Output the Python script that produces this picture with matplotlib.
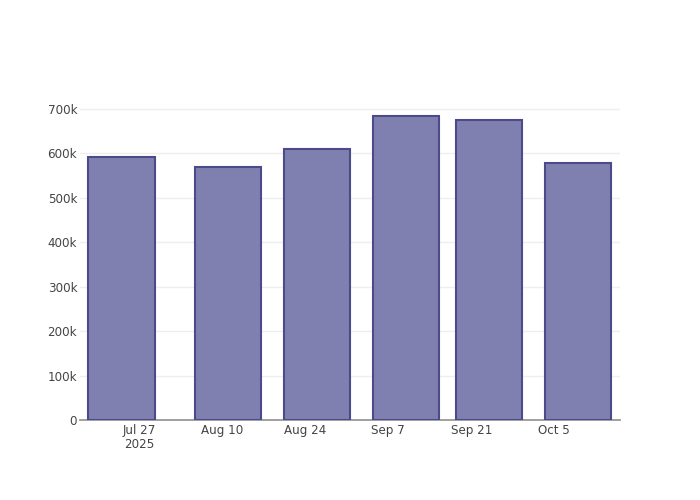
import matplotlib
matplotlib.use("Agg")
import matplotlib.pyplot as plt
import matplotlib.dates as mdates
import numpy as np
import datetime as dt

# weekly-ish totals
dates = ["2025-07-24", "2025-08-11", "2025-08-26", "2025-09-10", "2025-09-24", "2025-10-09"]
values = [592000, 569000, 610000, 684000, 675000, 578000]

tick_dates = ["2025-07-27", "2025-08-10", "2025-08-24", "2025-09-07", "2025-09-21", "2025-10-05"]
tick_labels = ["Jul 27\n2025", "Aug 10", "Aug 24", "Sep 7", "Sep 21", "Oct 5"]
y_ticks = [0, 100000, 200000, 300000, 400000, 500000, 600000, 700000]
y_labels = ["0", "100k", "200k", "300k", "400k", "500k", "600k", "700k"]

x = mdates.date2num([dt.datetime.fromisoformat(d) for d in dates])
xt = mdates.date2num([dt.datetime.fromisoformat(d) for d in tick_dates])

fig = plt.figure(figsize=(7, 5), dpi=100)
ax = fig.add_axes([80 / 700, 80 / 500, 540 / 700, 320 / 500])

ax.bar(x, values, width=0.8 * 14, color="#8080b0", edgecolor="#4b4b8b", linewidth=1.5, zorder=3)

# x range: ~Jul 17 to ~Oct 16
ax.set_xlim(xt[0] - 10, xt[0] + 81.1)
ax.set_ylim(0, 720000)

ax.set_xticks(xt)
ax.set_xticklabels(tick_labels, fontsize=8.6, color="#444444", linespacing=1.1)
ax.set_yticks(y_ticks)
ax.set_yticklabels(y_labels, fontsize=8.6, color="#444444")

ax.grid(axis="y", color="#eeeeee", linewidth=1, zorder=0)
ax.set_axisbelow(True)
for s in ["top", "right", "left"]:
    ax.spines[s].set_visible(False)
ax.spines["bottom"].set_color("#999999")
ax.spines["bottom"].set_linewidth(1.3)
ax.tick_params(axis="x", length=0, pad=3)
ax.tick_params(axis="y", length=0, pad=2)

fig.savefig("out.png", dpi=100)
